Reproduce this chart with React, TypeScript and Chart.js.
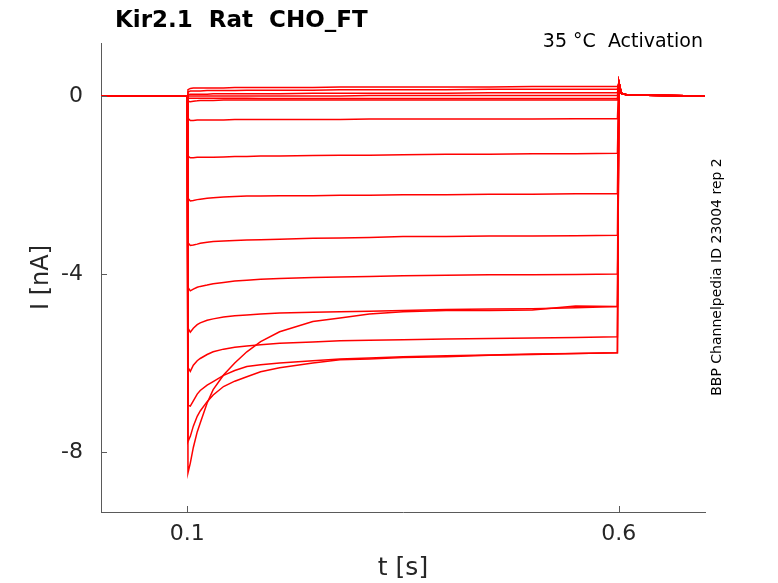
import React, { useEffect, useRef } from 'react';
import { Chart, registerables } from 'chart.js';

Chart.register(...registerables);

// time points of the recording (s), shared by every sweep
const TIME_S = [
  0, 0.0998, 0.1008, 0.1035, 0.107, 0.1115, 0.115, 0.123, 0.13, 0.142, 0.155, 0.169, 0.185, 0.207,
  0.2455, 0.277, 0.311, 0.35, 0.4, 0.45, 0.5, 0.55, 0.5985, 0.6003, 0.603, 0.61, 0.7,
];

// current (nA) of each sweep
const SWEEP_01 = [0, 0, 0.14, 0.17, 0.18, 0.18, 0.18, 0.18, 0.18, 0.18, 0.19, 0.19, 0.19, 0.19, 0.19, 0.2, 0.2, 0.2, 0.2, 0.2, 0.21, 0.21, 0.21, 0.3, 0.06, 0.02, 0];
const SWEEP_02 = [0, 0, 0.09, 0.11, 0.11, 0.11, 0.11, 0.12, 0.12, 0.12, 0.12, 0.13, 0.13, 0.13, 0.13, 0.14, 0.14, 0.14, 0.14, 0.15, 0.15, 0.15, 0.15, 0.3, 0.06, 0.02, 0];
const SWEEP_03 = [0, 0, 0.03, 0.04, 0.04, 0.04, 0.04, 0.04, 0.05, 0.05, 0.05, 0.05, 0.05, 0.05, 0.06, 0.06, 0.06, 0.06, 0.06, 0.07, 0.07, 0.07, 0.07, 0.3, 0.06, 0.02, 0];
const SWEEP_04 = [0, 0, 0, 0, 0, 0, 0, 0, 0, 0, 0, 0, 0, 0, 0, 0, 0.01, 0.01, 0.01, 0.01, 0.01, 0.01, 0.01, 0.3, 0.06, 0.02, 0];
const SWEEP_05 = [0, 0, -0.05, -0.05, -0.05, -0.05, -0.05, -0.05, -0.05, -0.05, -0.05, -0.05, -0.06, -0.06, -0.06, -0.06, -0.06, -0.06, -0.06, -0.06, -0.06, -0.06, -0.06, 0.3, 0.06, 0.02, 0];
const SWEEP_06 = [0, 0, -0.12, -0.13, -0.12, -0.11, -0.1, -0.1, -0.1, -0.09, -0.09, -0.09, -0.09, -0.09, -0.09, -0.09, -0.09, -0.09, -0.09, -0.09, -0.09, -0.09, -0.09, 0.3, 0.06, 0.02, 0];
const SWEEP_07 = [0, 0, -0.5, -0.55, -0.55, -0.54, -0.54, -0.54, -0.54, -0.54, -0.53, -0.53, -0.53, -0.53, -0.53, -0.53, -0.52, -0.52, -0.52, -0.52, -0.52, -0.51, -0.51, 0.3, 0.06, 0.02, 0];
const SWEEP_08 = [0, 0, -1.35, -1.39, -1.39, -1.38, -1.38, -1.38, -1.38, -1.37, -1.36, -1.36, -1.35, -1.35, -1.34, -1.33, -1.33, -1.32, -1.31, -1.31, -1.3, -1.3, -1.29, 0.3, 0.06, 0.02, 0];
const SWEEP_09 = [0, 0, -2.3, -2.36, -2.35, -2.33, -2.32, -2.3, -2.29, -2.27, -2.26, -2.25, -2.25, -2.24, -2.24, -2.23, -2.23, -2.22, -2.22, -2.21, -2.21, -2.2, -2.2, 0.3, 0.06, 0.02, 0];
const SWEEP_10 = [0, 0, -3.3, -3.36, -3.35, -3.33, -3.31, -3.29, -3.27, -3.26, -3.25, -3.24, -3.23, -3.22, -3.2, -3.19, -3.18, -3.16, -3.16, -3.15, -3.15, -3.14, -3.13, 0.3, 0.06, 0.02, 0];
const SWEEP_11 = [0, 0, -4.3, -4.38, -4.34, -4.3, -4.28, -4.25, -4.22, -4.19, -4.16, -4.14, -4.12, -4.1, -4.08, -4.07, -4.06, -4.04, -4.03, -4.02, -4.02, -4.01, -4.0, 0.3, 0.06, 0.02, 0];
const SWEEP_12 = [0, 0, -5.22, -5.31, -5.22, -5.14, -5.1, -5.04, -5.01, -4.97, -4.94, -4.92, -4.9, -4.88, -4.86, -4.85, -4.84, -4.82, -4.8, -4.79, -4.78, -4.76, -4.73, 0.3, 0.06, 0.02, 0];
const SWEEP_13 = [0, 0, -6.1, -6.19, -6.05, -5.95, -5.9, -5.81, -5.75, -5.69, -5.65, -5.62, -5.59, -5.56, -5.53, -5.5, -5.49, -5.48, -5.46, -5.45, -5.44, -5.43, -5.41, 0.3, 0.06, 0.02, 0];
const SWEEP_14 = [0, 0, -6.95, -6.97, -6.85, -6.7, -6.62, -6.5, -6.42, -6.28, -6.17, -6.08, -6.04, -6.0, -5.95, -5.91, -5.89, -5.86, -5.84, -5.82, -5.8, -5.79, -5.77, 0.3, 0.06, 0.02, 0];
const SWEEP_15 = [0, 0, -7.77, -7.65, -7.42, -7.2, -7.08, -6.87, -6.72, -6.53, -6.41, -6.31, -6.2, -6.11, -6.0, -5.93, -5.91, -5.88, -5.86, -5.83, -5.81, -5.79, -5.77, 0.3, 0.06, 0.02, 0];
const SWEEP_16 = [0, 0, -8.47, -8.25, -7.9, -7.55, -7.35, -6.9, -6.6, -6.27, -6.0, -5.75, -5.52, -5.3, -5.07, -4.99, -4.9, -4.85, -4.82, -4.82, -4.81, -4.72, -4.73, 0.3, 0.06, 0.02, 0];

const SWEEPS = [
  SWEEP_01, SWEEP_02, SWEEP_03, SWEEP_04, SWEEP_05, SWEEP_06, SWEEP_07, SWEEP_08,
  SWEEP_09, SWEEP_10, SWEEP_11, SWEEP_12, SWEEP_13, SWEEP_14, SWEEP_15, SWEEP_16,
];

const X_TICKS = [0.1, 0.6];
const Y_TICKS = [-8, -4, 0];

const TITLE = 'Kir2.1  Rat  CHO_FT';
const CONDITION = '35 °C  Activation';
const SOURCE = 'BBP Channelpedia ID 23004 rep 2';

const FONT = '"DejaVu Sans", sans-serif';
const AXIS_COLOR = '#5a5a5a';
const TEXT_COLOR = '#262626';

// inward tick marks + the free texts around the axes
const decorations = {
  id: 'decorations',
  afterDraw(chart: any) {
    const { ctx, chartArea, scales } = chart;
    const x = scales.x;
    const y = scales.y;
    ctx.save();
    ctx.strokeStyle = AXIS_COLOR;
    ctx.lineWidth = 1;
    X_TICKS.forEach((v) => {
      const px = Math.round(x.getPixelForValue(v)) + 0.5;
      ctx.beginPath();
      ctx.moveTo(px, chartArea.bottom);
      ctx.lineTo(px, chartArea.bottom - 6);
      ctx.stroke();
    });
    Y_TICKS.forEach((v) => {
      const py = Math.round(y.getPixelForValue(v)) + 0.5;
      ctx.beginPath();
      ctx.moveTo(chartArea.left, py);
      ctx.lineTo(chartArea.left + 6, py);
      ctx.stroke();
    });

    ctx.fillStyle = '#000';
    ctx.textBaseline = 'alphabetic';
    ctx.font = `bold 23px ${FONT}`;
    ctx.textAlign = 'left';
    ctx.fillText(TITLE, 115, 27);

    ctx.font = `19px ${FONT}`;
    ctx.textAlign = 'right';
    ctx.fillText(CONDITION, 703, 47);

    ctx.translate(721, 277);
    ctx.rotate(-Math.PI / 2);
    ctx.font = `14px ${FONT}`;
    ctx.textAlign = 'center';
    ctx.fillText(SOURCE, 0, 0);
    ctx.restore();
  },
};

export default function App() {
  const canvasRef = useRef<HTMLCanvasElement>(null);

  useEffect(() => {
    if (!canvasRef.current) return;

    const datasets = SWEEPS.map((sweep, i) => ({
      label: `sweep ${i + 1}`,
      data: TIME_S.map((t, j) => ({ x: t, y: sweep[j] })),
      borderColor: '#ff0000',
      backgroundColor: '#ff0000',
      borderWidth: 1.5,
      pointRadius: 0,
      showLine: true,
      fill: false,
      tension: 0,
    }));

    const config: any = {
      type: 'scatter',
      data: { datasets },
      options: {
        animation: false,
        responsive: true,
        maintainAspectRatio: false,
        layout: { padding: { left: 0, top: 43, right: 73, bottom: 0 } },
        plugins: {
          legend: { display: false },
          tooltip: { enabled: false },
        },
        scales: {
          x: {
            type: 'linear',
            min: 0,
            max: 0.7,
            afterBuildTicks: (scale: any) => {
              scale.ticks = X_TICKS.map((v) => ({ value: v }));
            },
            afterFit: (scale: any) => {
              scale.height = 71;
            },
            grid: { display: false, drawTicks: false },
            border: { display: true, color: AXIS_COLOR, width: 1 },
            ticks: {
              autoSkip: false,
              maxRotation: 0,
              padding: 9,
              color: TEXT_COLOR,
              font: { family: FONT, size: 22 },
              callback: (v: any) => String(v),
            },
            title: {
              display: true,
              text: 't [s]',
              color: TEXT_COLOR,
              font: { family: FONT, size: 25 },
              padding: { top: 0, bottom: 0 },
            },
          },
          y: {
            type: 'linear',
            min: -9.35,
            max: 1.19,
            afterBuildTicks: (scale: any) => {
              scale.ticks = Y_TICKS.map((v) => ({ value: v }));
            },
            afterFit: (scale: any) => {
              scale.width = 101;
            },
            grid: { display: false, drawTicks: false },
            border: { display: true, color: AXIS_COLOR, width: 1 },
            ticks: {
              autoSkip: false,
              padding: 18,
              color: TEXT_COLOR,
              font: { family: FONT, size: 22 },
              callback: (v: any) => String(v),
            },
            title: {
              display: true,
              text: 'I [nA]',
              color: TEXT_COLOR,
              font: { family: FONT, size: 24 },
              padding: { top: 27, bottom: 0 },
            },
          },
        },
      },
      plugins: [decorations],
    };

    const chart = new Chart(canvasRef.current, config);
    return () => {
      chart.destroy();
    };
  }, []);

  return (
    <div style={{ position: 'absolute', left: 0, top: 0, width: 778, height: 583, background: '#fff' }}>
      <canvas ref={canvasRef}></canvas>
    </div>
  );
}
